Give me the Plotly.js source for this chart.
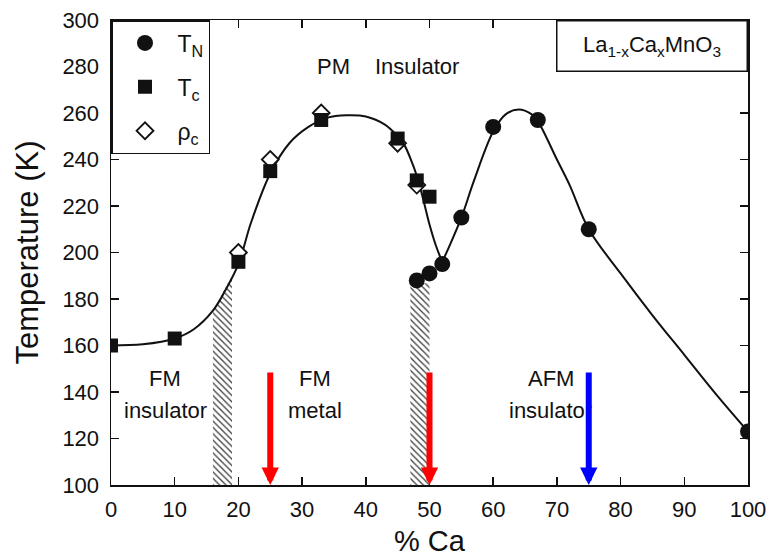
<!DOCTYPE html>
<html>
<head>
<meta charset="utf-8">
<script src="https://cdn.plot.ly/plotly-3.0.1.min.js"></script>
<style>html,body{margin:0;padding:0;background:#fff;}#chart{width:770px;height:560px;}</style>
</head>
<body>
<div id="chart"></div>
<script>
// ---- data ----
// T_N (circles)
const tnX = [48, 50, 52, 55, 60, 67, 75, 100];
const tnY = [188, 191, 195, 215, 254, 257, 210, 123];
// T_c (squares)
const tcX = [0, 10, 20, 25, 33, 45, 48, 50];
const tcY = [160, 163, 196, 235, 257, 249, 231, 224];
// rho_c (open diamonds)
const rcX = [20, 25, 33, 45, 48];
const rcY = [200, 240, 260, 247, 229];
// guide curve through the T_c side
const tcCurveX = [0, 5, 10, 13, 16, 18, 20, 22, 25, 28, 31, 34, 37, 40, 43, 45, 46, 47, 48, 49, 50, 51, 52];
const tcCurveY = [160, 160.5, 163, 167, 175, 184, 195, 213, 234, 247, 254, 258, 259, 258.5, 255, 250, 246.5, 240.5, 233, 223, 212, 203, 196];
// guide curve through the T_N side
const tnCurveX = [52, 53, 55, 57, 60, 62, 64, 66, 67, 70, 72, 75, 80, 85, 90, 95, 100];
const tnCurveY = [196, 202, 215, 231, 252, 259.5, 261.5, 259.5, 256.5, 240, 229, 210, 191, 173, 156, 139, 123];
// hatched crossover regions
const hatch1X = [16, 16, 17, 18, 19, 19];
const hatch1Y = [100, 175, 180, 185, 190, 100];
const hatch2X = [47, 47, 50, 50];
const hatch2Y = [100, 186, 187, 100];
// arrows
const arrowX = [25, 50, 75];
const arrowColor = ['#ff0000', '#ff0000', '#0000ff'];
const arrowTop = 149;
// region labels
const labelText = ['FM', 'insulator', 'FM', 'metal', 'AFM', 'insulator', 'PM', 'Insulator'];
const labelX = [8.5, 8.5, 32, 32, 69, 69, 34.9, 48];
const labelY = [146, 132, 146, 132, 146, 132, 280, 280];
// axes
const xTicks = [0, 10, 20, 30, 40, 50, 60, 70, 80, 90, 100];
const yTicks = [100, 120, 140, 160, 180, 200, 220, 240, 260, 280, 300];
const xTitle = '% Ca';
const yTitle = 'Temperature (K)';
const formula = 'La<sub>1-x</sub>Ca<sub>x</sub>MnO<sub>3</sub>';

const FONT = 'Liberation Sans, Arial, sans-serif';
const hatchStyle = {shape: '\\', fgcolor: '#444', bgcolor: 'rgba(0,0,0,0)', size: 4.5, solidity: 0.3};

const traces = [
  {x: hatch1X, y: hatch1Y, type: 'scatter', mode: 'none', fill: 'toself', fillcolor: 'rgba(0,0,0,0)', fillpattern: hatchStyle, showlegend: false, hoverinfo: 'skip'},
  {x: hatch2X, y: hatch2Y, type: 'scatter', mode: 'none', fill: 'toself', fillcolor: 'rgba(0,0,0,0)', fillpattern: hatchStyle, showlegend: false, hoverinfo: 'skip'},
  {x: tcCurveX, y: tcCurveY, type: 'scatter', mode: 'lines', line: {color: '#111', width: 2, shape: 'spline', smoothing: 1}, showlegend: false, hoverinfo: 'skip'},
  {x: tnCurveX, y: tnCurveY, type: 'scatter', mode: 'lines', line: {color: '#111', width: 2, shape: 'spline', smoothing: 1}, showlegend: false, hoverinfo: 'skip'},
  {x: rcX, y: rcY, type: 'scatter', mode: 'markers', name: '\u03c1<sub>c</sub>', legendrank: 3, legendgroup: 'c',
   marker: {symbol: 'diamond', size: 13, color: '#fff', line: {color: '#111', width: 1.8}}},
  {x: tcX, y: tcY, type: 'scatter', mode: 'markers', name: 'T<sub>c</sub>', legendrank: 2, legendgroup: 'b',
   marker: {symbol: 'square', size: 14, color: '#111', line: {width: 0}}},
  {x: tnX, y: tnY, type: 'scatter', mode: 'markers', name: 'T<sub>N</sub>', legendrank: 1, legendgroup: 'a',
   marker: {symbol: 'circle', size: 16, color: '#111', line: {width: 0}}}
];

const annotations = [];
for (let i = 0; i < labelText.length; i++) {
  annotations.push({x: labelX[i], y: labelY[i], xref: 'x', yref: 'y', text: labelText[i], showarrow: false,
    font: {family: FONT, size: 22, color: '#111'}});
}
annotations.push({x: 1, y: 1, xref: 'paper', yref: 'paper', xanchor: 'right', yanchor: 'top', text: formula,
  showarrow: false, width: 189, height: 49, borderpad: 0, bordercolor: '#111', borderwidth: 1.5, bgcolor: '#fff',
  align: 'center', valign: 'middle', font: {family: FONT, size: 22, color: '#111'}});
// y axis title (placed as a rotated annotation for precise position)
annotations.push({x: 0, y: 0.5, xref: 'paper', yref: 'paper', xanchor: 'center', yanchor: 'middle', xshift: -84,
  text: yTitle, textangle: -90, showarrow: false, font: {family: FONT, size: 31, color: '#111'}});
// x axis title
annotations.push({x: 0.5, y: 0, xref: 'paper', yref: 'paper', xanchor: 'center', yanchor: 'middle', yshift: -56,
  text: xTitle, showarrow: false, font: {family: FONT, size: 29, color: '#111'}});
for (let i = 0; i < arrowX.length; i++) {
  annotations.push({x: arrowX[i], y: 100, ax: arrowX[i], ay: arrowTop, xref: 'x', yref: 'y', axref: 'x', ayref: 'y',
    text: '', showarrow: true, arrowhead: 2, arrowsize: 0.58, arrowwidth: 6, arrowcolor: arrowColor[i], standoff: 0});
}

const axisCommon = {showgrid: false, zeroline: false, showline: true, linecolor: '#111', linewidth: 1.5, mirror: 'ticks',
  ticks: 'inside', ticklen: 8, tickwidth: 1.5, tickcolor: '#111', tickfont: {family: FONT, size: 22, color: '#111'}, automargin: false};

const layout = {
  width: 770, height: 560,
  margin: {l: 111, r: 22, t: 20, b: 75},
  paper_bgcolor: '#fff', plot_bgcolor: '#fff',
  font: {family: FONT, color: '#111'},
  xaxis: Object.assign({}, axisCommon, {range: [0, 100], tickvals: xTicks, ticklabelstandoff: 4}),
  yaxis: Object.assign({}, axisCommon, {range: [100, 300], tickvals: yTicks, ticklabelstandoff: 6}),
  legend: {x: 0, y: 1, xanchor: 'left', yanchor: 'top', bgcolor: '#fff', bordercolor: '#111', borderwidth: 1.5,
    font: {family: FONT, size: 23, color: '#111'}, itemwidth: 55, traceorder: 'grouped', tracegroupgap: 11},
  annotations: annotations,
  showlegend: true
};

Plotly.newPlot('chart', traces, layout, {displayModeBar: false, staticPlot: true});
</script>
</body>
</html>
